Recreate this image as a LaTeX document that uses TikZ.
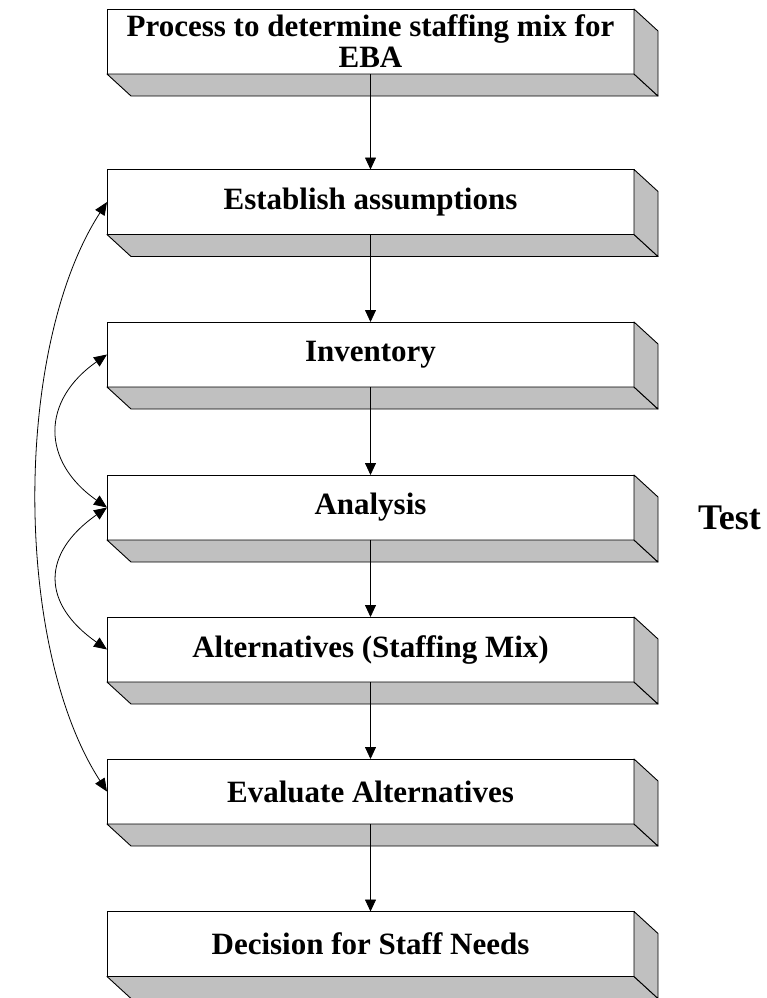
\documentclass[tikz,border=0pt]{standalone}
\usepackage{fontspec}
\setmainfont{Liberation Serif}
\usetikzlibrary{arrows.meta}
\definecolor{slabgray}{RGB}{192,192,192}
\tikzset{
	slab/.style={draw, fill=white, line width=0.9pt, outer sep=0pt, inner sep=0pt,
		minimum width=527pt, minimum height=65pt, align=center,
		font=\bfseries\fontsize{31}{31}\selectfont},
	bevel/.style={draw, fill=slabgray, line width=0.9pt, line join=round},
	link/.style={line width=0.8pt, -{Triangle[width=11pt,length=12pt]}},
	twoway/.style={line width=0.8pt, {Triangle[width=11pt,length=13pt]}-{Triangle[width=11pt,length=13pt]}},
}
\begin{document}
\begin{tikzpicture}[x=1pt,y=1pt,node distance=153pt]
			\useasboundingbox (0,0) rectangle (766,-998);
			\node[slab](Proc) at (370.5,-41.5)		{Process to determine staffing mix for\\EBA};
			\node[slab](Est)	[below of=Proc, node distance=160.5pt]	{Establish assumptions};
			\node[slab](Inv)	[below of=Est, node distance=152.5pt]	{Inventory};
			\node[slab](Ana)	[below of=Inv]			{Analysis};
			\node[slab](Alt)	[below of=Ana, node distance=142pt]	{Alternatives (Staffing Mix)};
			\node[slab](Eval)	[below of=Alt, node distance=142pt]	{Evaluate Alternatives};
			\node[slab](Dec)	[below of=Eval, node distance=152.5pt]	{Decision for Staff Needs};
			\node(Test) at (729.5,-517.5)	{\bfseries\fontsize{36}{36}\selectfont Test};
			% shaded underside and right side of every box
			\foreach \n in {Proc,Est,Inv,Ana,Alt,Eval,Dec}{
				\path[bevel] (\n.south west) -- ++(24,-22) -- ++(527,0) -- (\n.south east) -- cycle;
				\path[bevel] (\n.north east) -- ++(24,-22) -- ++(0,-65) -- (\n.south east) -- cycle;
			}
			\draw[link](Proc.south)	-- (Est.north);
			\draw[link](Est.south)	-- (Inv.north);
			\draw[link](Inv.south)	-- (Ana.north);
			\draw[link](Ana.south)	-- (Alt.north);
			\draw[link](Alt.south)	-- (Eval.north);
			\draw[link](Eval.south)	-- (Dec.north);
			% feedback loops on the left
			\draw[twoway](Inv.west)	to[out=215, in=145, looseness=1.35] (Ana.west);
			\draw[twoway](Ana.west)	to[out=215, in=145, looseness=1.45] (Alt.west);
			\draw[twoway](Est.west)	to[out=237, in=123, looseness=0.75] (Eval.west);
		\end{tikzpicture}
\end{document}
